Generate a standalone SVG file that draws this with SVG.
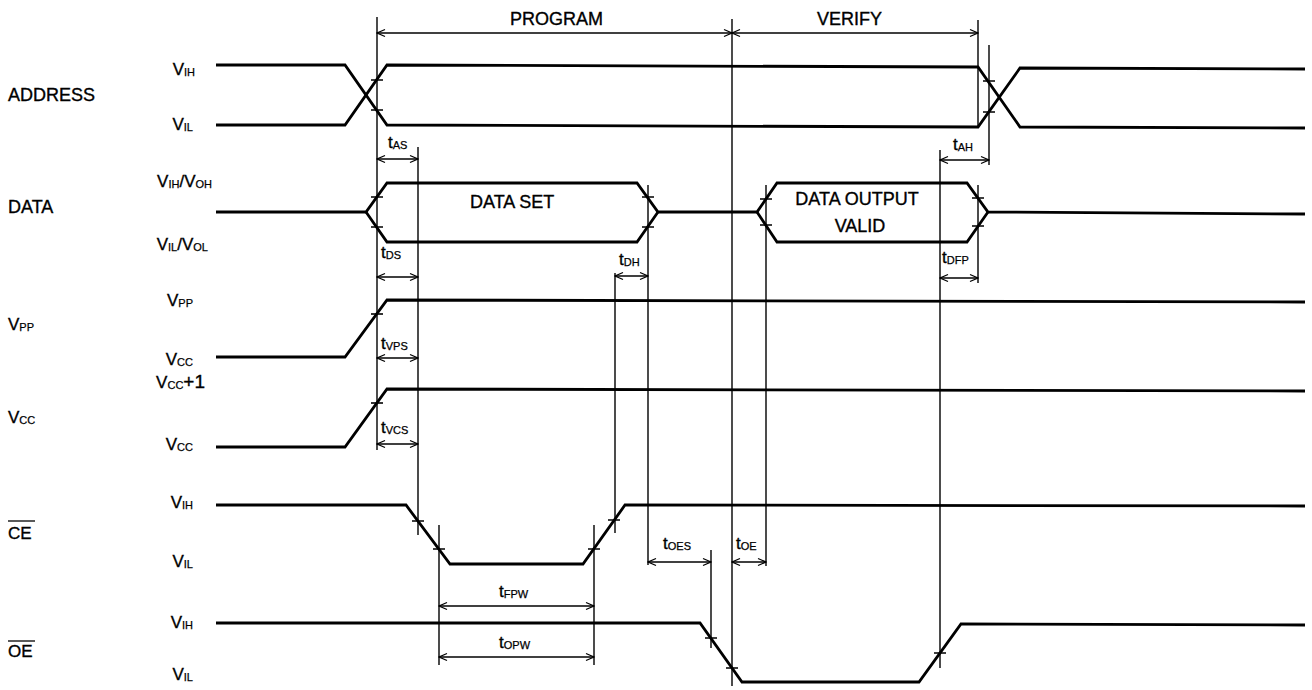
<svg xmlns="http://www.w3.org/2000/svg" width="1312" height="690" viewBox="0 0 1312 690">
<style>
text{font-family:"Liberation Sans",Arial,sans-serif;fill:#000;stroke:#000;stroke-width:0.35}
.sig{font-size:18px}
.v{font-size:17px}
.sub{font-size:11px;stroke-width:0.25}
.w{fill:none;stroke:#000;stroke-width:2.8;stroke-linejoin:miter}
.g{fill:none;stroke:#000;stroke-width:1.4}
.tk{fill:none;stroke:#000;stroke-width:1.6}
.dim{fill:none;stroke:#000;stroke-width:1.4;marker-start:url(#ah);marker-end:url(#ah)}
.ol{stroke:#000;stroke-width:1.3}
</style>
<defs>
<marker id="ah" viewBox="0 0 10 10" refX="9" refY="5" markerWidth="10" markerHeight="10" markerUnits="userSpaceOnUse" orient="auto-start-reverse">
<path d="M1,1.5 L9,5 L1,8.5" fill="none" stroke="#000" stroke-width="1.3"/>
</marker>
</defs>
<rect width="1312" height="690" fill="#fff"/>

<g id="address">
<text class="sig" x="8" y="101">ADDRESS</text>
<text class="v" x="195" y="75" text-anchor="end">V<tspan class="sub" dy="1">IH</tspan></text>
<text class="v" x="193" y="130" text-anchor="end">V<tspan class="sub" dy="1">IL</tspan></text>
<polyline class="w" points="216,65 345,65 387,125 978,127 1020,68 1305,69"/>
<polyline class="w" points="216,125 345,125 387,65 978,67 1020,127 1305,128"/>
<path class="tk" d="M371,80h12M371,110h12M983,81h12M983,112h12"/>
</g>

<g id="data">
<text class="sig" x="8" y="213">DATA</text>
<text class="v" x="212" y="187" text-anchor="end">V<tspan class="sub" dy="1">IH</tspan><tspan dy="-1">/V</tspan><tspan class="sub" dy="1">OH</tspan></text>
<text class="v" x="208" y="250" text-anchor="end">V<tspan class="sub" dy="1">IL</tspan><tspan dy="-1">/V</tspan><tspan class="sub" dy="1">OL</tspan></text>
<polyline class="w" points="216,212 366,212 387,183 637,183 658,212 757,212 777,183 967,183 988,212 1305,214"/>
<polyline class="w" points="366,212 387,242 637,242 658,212"/>
<polyline class="w" points="757,212 777,242 967,242 988,212"/>
<path class="tk" d="M371,197h12M371,227h12M642,197h12M642,227h12M760,199h12M760,225h12M972,198h12M972,226h12"/>
<text class="sig" x="470" y="208">DATA SET</text>
<text class="sig" x="857" y="205" text-anchor="middle">DATA OUTPUT</text>
<text class="sig" x="860" y="232" text-anchor="middle">VALID</text>
</g>

<g id="vpp">
<text class="v" x="8" y="330">V<tspan class="sub" dy="1">PP</tspan></text>
<text class="v" x="193" y="306" text-anchor="end">V<tspan class="sub" dy="1">PP</tspan></text>
<text class="v" x="193" y="365" text-anchor="end">V<tspan class="sub" dy="1">CC</tspan></text>
<polyline class="w" points="216,357 345,357 387,300 1305,302"/>
<path class="tk" d="M371,314h12"/>
</g>

<g id="vcc">
<text class="v" x="8" y="423">V<tspan class="sub" dy="1">CC</tspan></text>
<text class="v" x="205" y="388" text-anchor="end">V<tspan class="sub" dy="1">CC</tspan><tspan dy="-1" font-size="19">+1</tspan></text>
<text class="v" x="193" y="450" text-anchor="end">V<tspan class="sub" dy="1">CC</tspan></text>
<polyline class="w" points="216,447 345,447 387,389 1305,391"/>
<path class="tk" d="M371,403h12"/>
</g>

<g id="ce">
<text class="v" x="8" y="539">CE</text>
<line class="ol" x1="8" y1="521" x2="35" y2="521"/>
<text class="v" x="193" y="508" text-anchor="end">V<tspan class="sub" dy="1">IH</tspan></text>
<text class="v" x="193" y="567" text-anchor="end">V<tspan class="sub" dy="1">IL</tspan></text>
<polyline class="w" points="216,505 406,505 450,564 583,564 625,505 1305,506"/>
<path class="tk" d="M412,521h12M433,549h12M588,549h12M608,520h12"/>
</g>

<g id="oe">
<text class="v" x="8" y="657">OE</text>
<line class="ol" x1="8" y1="641" x2="35" y2="641"/>
<text class="v" x="193" y="628" text-anchor="end">V<tspan class="sub" dy="1">IH</tspan></text>
<text class="v" x="193" y="680" text-anchor="end">V<tspan class="sub" dy="1">IL</tspan></text>
<polyline class="w" points="216,623 700,623 742,682 919,682 961,624 1305,625"/>
<path class="tk" d="M705,638h12M726,668h12M934,653h12"/>
</g>

<g id="connectors">
<path class="g" d="M377,17V450M418,147V535M439,525V665M594,525V665M615,273V533M648,185V565M711,550V648M732,19V686M766,185V566M940,150V668M978,20V127M978,185V283M989,45V165"/>
<line class="dim" x1="377" y1="33" x2="732" y2="33"/>
<line class="dim" x1="732" y1="33" x2="978" y2="33"/>
<line class="dim" x1="377" y1="159" x2="418" y2="159"/>
<line class="dim" x1="940" y1="160" x2="989" y2="160"/>
<line class="dim" x1="377" y1="277" x2="418" y2="277"/>
<line class="dim" x1="615" y1="276" x2="648" y2="276"/>
<line class="dim" x1="940" y1="278" x2="978" y2="278"/>
<line class="dim" x1="377" y1="358" x2="418" y2="358"/>
<line class="dim" x1="377" y1="444" x2="418" y2="444"/>
<line class="dim" x1="648" y1="562" x2="711" y2="562"/>
<line class="dim" x1="732" y1="562" x2="766" y2="562"/>
<line class="dim" x1="439" y1="606" x2="594" y2="606"/>
<line class="dim" x1="439" y1="657" x2="594" y2="657"/>
<text class="sig" x="510" y="25">PROGRAM</text>
<text class="sig" x="817" y="25">VERIFY</text>
<text class="v" x="388" y="148">t<tspan class="sub" dy="1">AS</tspan></text>
<text class="v" x="953" y="150">t<tspan class="sub" dy="1">AH</tspan></text>
<text class="v" x="381" y="258">t<tspan class="sub" dy="1">DS</tspan></text>
<text class="v" x="619" y="265">t<tspan class="sub" dy="1">DH</tspan></text>
<text class="v" x="942" y="263">t<tspan class="sub" dy="1">DFP</tspan></text>
<text class="v" x="381" y="349">t<tspan class="sub" dy="1">VPS</tspan></text>
<text class="v" x="381" y="433">t<tspan class="sub" dy="1">VCS</tspan></text>
<text class="v" x="663" y="549">t<tspan class="sub" dy="1">OES</tspan></text>
<text class="v" x="736" y="549">t<tspan class="sub" dy="1">OE</tspan></text>
<text class="v" x="499" y="597">t<tspan class="sub" dy="1">FPW</tspan></text>
<text class="v" x="499" y="648">t<tspan class="sub" dy="1">OPW</tspan></text>
</g>
</svg>
